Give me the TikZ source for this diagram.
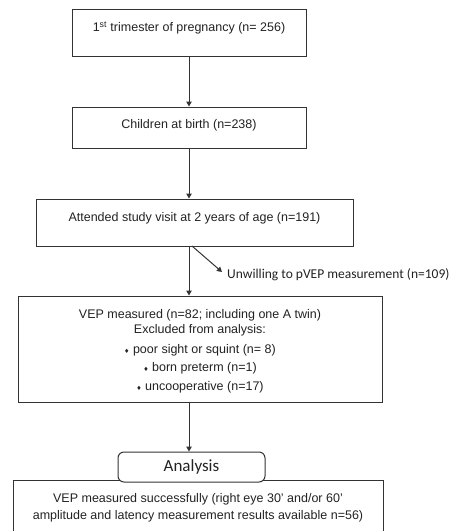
\documentclass[tikz,border=0pt]{standalone}
\usepackage{fontspec}
\setmainfont{Liberation Sans}
\newfontfamily\calfont{Carlito}
\newfontfamily\symfont{DejaVu Sans}
\usetikzlibrary{arrows.meta}
\definecolor{ink}{HTML}{222222}
\definecolor{edge}{HTML}{333333}
\tikzset{
  box/.style={draw=edge, line width=1pt, rectangle, inner sep=0pt},
  txt/.style={text=ink, font=\fontsize{12.5}{15}\selectfont, inner sep=0pt, align=center},
  arr/.style={draw=edge, line width=1pt, -{Triangle[length=5pt,width=5.5pt]}},
}
\newcommand{\dmd}{{\symfont\fontsize{6}{6}\selectfont ♦}}
\begin{document}
\begin{tikzpicture}[x=1pt,y=-1pt]
\useasboundingbox (0,0) rectangle (460,531);
\node[box, minimum width=234, minimum height=47] (b1) at (189,32.5) {};
\node[txt] (t1) at (189,28) {1\textsuperscript{st} trimester of pregnancy (n= 256)};
\node[box, minimum width=234, minimum height=41] (b2) at (189,127.5) {};
\node[txt] (t2) at (189,125) {Children at birth (n=238)};
\node[box, minimum width=317, minimum height=47] (b3) at (194.5,222.5) {};
\node[txt] (t3) at (194.5,218) {Attended study visit at 2 years of age (n=191)};
\node[box, minimum width=364, minimum height=106] (b4) at (200,349) {};
\node[txt] (t4) at (200,351) {VEP measured (n=82; including one A twin)\\[0pt]
Excluded from analysis:\\[5pt]
\dmd\ poor sight or squint (n= 8)\\[3pt]
\dmd\ born preterm (n=1)\\[4pt]
\dmd\ uncooperative (n=17)};
\node[box, minimum width=370, minimum height=64] (b5) at (198,512) {};
\node[txt] (t5) at (198,507.5) {VEP measured successfully (right eye 30' and/or 60'\\[2pt]
amplitude and latency measurement results available n=56)};
\node[box, fill=white, rounded corners=6pt, minimum width=147, minimum height=30] (an) at (191.5,467) {};
\node[text=ink, font=\calfont\fontsize{17}{20}\selectfont, inner sep=0pt] (ta) at (191.5,467) {Analysis};
\node[text=ink, font=\calfont\fontsize{13.5}{16}\selectfont, inner sep=0pt, anchor=west] (u) at (227,275) {Unwilling to pVEP measurement (n=109)};
\coordinate (d0) at (192,246);
\draw[arr] (b1.south) -- (b2.north);
\draw[arr] (b2.south) -- (b2.south |- b3.north);
\draw[arr] (b1.south |- b3.south) -- (b1.south |- b4.north);
\draw[arr] (b1.south |- b4.south) -- (b1.south |- an.north);
\draw[arr] (d0) -- ([xshift=-5pt,yshift=3pt]u.west);
\end{tikzpicture}
\end{document}
